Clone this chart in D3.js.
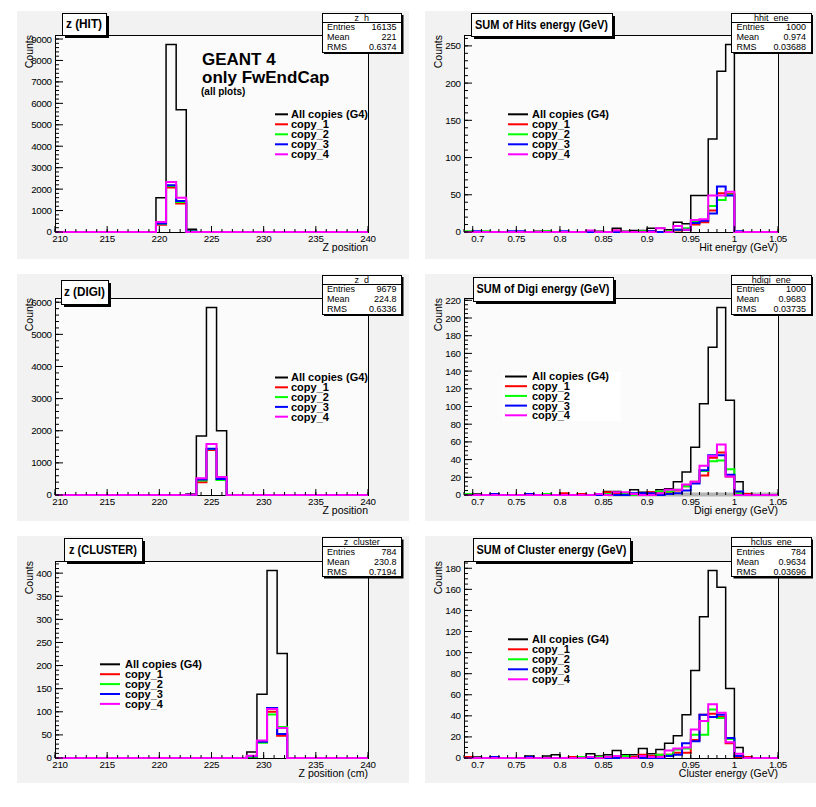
<!DOCTYPE html>
<html><head><meta charset="utf-8">
<script src="https://cdn.jsdelivr.net/npm/d3@7"></script>
<style>
body{margin:0;background:#fff}
svg{display:block}
text{font-family:"Liberation Sans",Arial,Helvetica,sans-serif}
</style></head>
<body><svg id="c" width="816" height="807"></svg>
<script>
// ---------------- DATA ----------------
// z histograms: 31 bins from 210 to 240
const zLo = 210, zHi = 240;
const zHitAll = [0,0,0,0,0,0,0,0,0,0, 1600,8750,5700,130,0,0,0,0,0,0, 0,0,0,0,0,0,0,0,0,0, 0];
const zHitC1  = [0,0,0,0,0,0,0,0,0,0, 340,2080,1330,15,0,0,0,0,0,0, 0,0,0,0,0,0,0,0,0,0, 0];
const zHitC2  = [0,0,0,0,0,0,0,0,0,0, 380,2150,1400,40,0,0,0,0,0,0, 0,0,0,0,0,0,0,0,0,0, 0];
const zHitC3  = [0,0,0,0,0,0,0,0,0,0, 400,2180,1450,20,0,0,0,0,0,0, 0,0,0,0,0,0,0,0,0,0, 0];
const zHitC4  = [0,0,0,0,0,0,0,0,0,0, 470,2330,1600,0,0,0,0,0,0,0, 0,0,0,0,0,0,0,0,0,0, 0];

const zDigiAll = [0,0,0,0,0,0,0,0,0,0, 0,0,0,30,1840,5840,2000,0,0,0, 0,0,0,0,0,0,0,0,0,0, 0];
const zDigiC1  = [0,0,0,0,0,0,0,0,0,0, 0,0,0,5,400,1400,480,0,0,0, 0,0,0,0,0,0,0,0,0,0, 0];
const zDigiC2  = [0,0,0,0,0,0,0,0,0,0, 0,0,0,10,450,1430,470,0,0,0, 0,0,0,0,0,0,0,0,0,0, 0];
const zDigiC3  = [0,0,0,0,0,0,0,0,0,0, 0,0,0,5,480,1440,500,0,0,0, 0,0,0,0,0,0,0,0,0,0, 0];
const zDigiC4  = [0,0,0,0,0,0,0,0,0,0, 0,0,0,10,520,1590,560,0,0,0, 0,0,0,0,0,0,0,0,0,0, 0];

const zClusAll = [0,0,0,0,0,0,0,0,0,0, 0,0,0,0,0,0,0,0,0,13, 138,406,226,0,0,0,0,0,0,0, 0];
const zClusC1  = [0,0,0,0,0,0,0,0,0,0, 0,0,0,0,0,0,0,0,0,2, 36,100,48,0,0,0,0,0,0,0, 0];
const zClusC2  = [0,0,0,0,0,0,0,0,0,0, 0,0,0,0,0,0,0,0,0,2, 33,94,67,0,0,0,0,0,0,0, 0];
const zClusC3  = [0,0,0,0,0,0,0,0,0,0, 0,0,0,0,0,0,0,0,0,4, 35,108,52,0,0,0,0,0,0,0, 0];
const zClusC4  = [0,0,0,0,0,0,0,0,0,0, 0,0,0,0,0,0,0,0,0,5, 38,106,65,0,0,0,0,0,0,0, 0];

// energy histograms: 36 bins from 0.69 to 1.05
const eLo = 0.69, eHi = 1.05;
const eHitAll = [0,0,0,0,0,0,0,0,1,1, 0,0,0,0,1,1,0,5,1,2, 2,5,5,3,13,11,49,49,125,216, 252,0,0,0,0,0];
const eHitC1  = [0,0,0,0,0,0,0,0,0,0, 0,0,0,0,1,0,0,2,0,0, 0,1,0,1,2,3,10,13,29,52, 51,0,0,0,0,0];
const eHitC2  = [1,0,1,0,0,0,0,0,0,1, 0,0,0,0,0,0,0,0,0,0, 1,0,0,1,3,5,14,16,35,43, 50,0,0,0,0,0];
const eHitC3  = [0,1,0,0,0,1,1,0,0,0, 0,1,0,0,0,0,0,0,0,0, 0,1,0,0,3,3,12,15,25,61, 49,1,0,0,0,0];
const eHitC4  = [0,0,0,0,0,0,0,0,0,0, 0,0,0,0,2,0,0,2,0,0, 0,0,5,0,8,3,16,17,49,49, 54,0,0,0,0,0];

const eDigiAll = [1,1,0,0,0,0,0,0,0,0, 0,0,0,0,0,1,4,4,2,6, 3,3,6,7,15,26,54,103,167,212, 107,15,0,0,0,0];
const eDigiC1  = [0,0,0,0,0,0,0,0,0,0, 0,2,0,1,0,0,3,2,0,0, 1,3,2,2,5,10,15,22,42,48, 21,2,1,0,0,0];
const eDigiC2  = [1,0,0,0,0,0,0,0,0,1, 0,0,0,0,0,0,1,0,2,0, 0,0,4,4,6,10,14,27,38,39, 29,2,0,0,0,0];
const eDigiC3  = [0,0,0,1,0,0,0,1,0,0, 0,0,0,0,0,0,0,0,0,2, 2,2,0,1,2,5,13,28,45,45, 23,4,0,0,0,0];
const eDigiC4  = [0,0,0,0,0,0,0,0,0,0, 0,0,0,0,0,1,0,3,3,1, 0,0,2,6,6,12,15,33,44,57, 21,0,0,0,0,0];

const eClusAll = [0,1,0,0,0,0,0,2,0,2, 3,0,0,0,4,2,3,7,3,3, 9,4,8,14,21,41,83,134,178,162, 66,10,0,0,0,0];
const eClusC1  = [1,0,0,0,0,0,0,0,0,0, 0,0,1,0,0,0,1,0,0,1, 3,2,3,3,5,5,17,41,42,39, 14,1,1,0,0,0];
const eClusC2  = [0,0,0,0,0,0,0,0,0,0, 0,0,0,1,0,1,0,0,2,0, 0,1,3,3,8,9,22,22,46,38, 18,2,0,0,0,0];
const eClusC3  = [0,0,0,1,0,0,0,1,0,0, 0,0,0,0,0,0,0,0,0,0, 0,0,0,2,3,14,16,41,39,41, 19,2,0,0,0,0];
const eClusC4  = [0,0,0,0,0,0,0,0,0,0, 0,0,0,0,1,0,1,2,0,0, 2,1,1,7,9,10,27,35,51,43, 15,4,0,0,0,0];

// axis ticks / labels
const zTicks = [210,215,220,225,230,235,240];
const zTickLabels = ["210","215","220","225","230","235","240"];
const eTicks = [0.70,0.75,0.80,0.85,0.90,0.95,1.00,1.05];
const eTickLabels = ["0.7","0.75","0.8","0.85","0.9","0.95","1","1.05"];
const yTicksHitZ  = [0,1000,2000,3000,4000,5000,6000,7000,8000,9000];
const yTicksHitE  = [0,50,100,150,200,250];
const yTicksDigiZ = [0,1000,2000,3000,4000,5000,6000];
const yTicksDigiE = [0,20,40,60,80,100,120,140,160,180,200,220];
const yTicksClusZ = [0,50,100,150,200,250,300,350,400];
const yTicksClusE = [0,20,40,60,80,100,120,140,160,180];

// texts
const titles  = ["z (HIT)","SUM of Hits energy (GeV)","z (DIGI)","SUM of Digi energy (GeV)","z (CLUSTER)","SUM of Cluster energy (GeV)"];
const xTitles = ["Z position","Hit energy (GeV)","Z position","Digi energy (GeV)","Z position (cm)","Cluster energy (GeV)"];
const statNames   = ["z_h","hhit_ene","z_d","hdigi_ene","z_cluster","hclus_ene"];
const statEntries = ["16135","1000","9679","1000","784","784"];
const statMean    = ["221","0.974","224.8","0.9683","230.8","0.9634"];
const statRMS     = ["0.6374","0.03688","0.6336","0.03735","0.7194","0.03696"];
const legendLabels = ["All copies (G4)","copy_1","copy_2","copy_3","copy_4"];
const seriesColors = ["#000000","#ff0000","#00ff00","#0000ff","#ff00ff"];

// ---------------- LAYOUT ----------------
const svg = d3.select("#c");
svg.append("rect").attr("width",816).attr("height",807).attr("fill","#fff");

const padX=[17,425], padW=[392,391];
const padY=[11,274,536], padH=[248,247,247];
const frX=[55,464], frW=[313,314];
const frY=[35,298,561], frH=197;
const stX=[322,731.5], stY=[13,275,537.5];

const titleBoxes = [
  {x:62,y:13,w:44,h:22,tw:36},
  {x:471,y:13,w:141,h:23,tw:133},
  {x:61,y:280,w:47,h:24,tw:41},
  {x:473,y:277,w:140,h:24,tw:133},
  {x:64,y:538,w:78,h:23,tw:68},
  {x:473,y:538,w:157,h:23,tw:150}
];
const legends = [
  {x1:275,x2:288,tx:291,y0:114.3,dy:10},
  {x1:508,x2:528,tx:532,y0:114.3,dy:10},
  {x1:275,x2:288,tx:291,y0:377.5,dy:9.8},
  {x1:505,x2:527,tx:532,y0:376.5,dy:9.7,box:{x:503,y:372,w:118,h:49}},
  {x1:100,x2:120,tx:125,y0:664.3,dy:9.9},
  {x1:508,x2:528,tx:532,y0:639.3,dy:10}
];

const panels = [
  {series:[zHitAll,zHitC1,zHitC2,zHitC3,zHitC4], lo:zLo, hi:zHi, ticks:zTicks, tickLabels:zTickLabels, minorStep:1, yTicks:yTicksHitZ, yMinorDiv:5},
  {series:[eHitAll,eHitC1,eHitC2,eHitC3,eHitC4], lo:eLo, hi:eHi, ticks:eTicks, tickLabels:eTickLabels, minorStep:0.01, yTicks:yTicksHitE, yMinorDiv:5},
  {series:[zDigiAll,zDigiC1,zDigiC2,zDigiC3,zDigiC4], lo:zLo, hi:zHi, ticks:zTicks, tickLabels:zTickLabels, minorStep:1, yTicks:yTicksDigiZ, yMinorDiv:5},
  {series:[eDigiAll,eDigiC1,eDigiC2,eDigiC3,eDigiC4], lo:eLo, hi:eHi, ticks:eTicks, tickLabels:eTickLabels, minorStep:0.01, yTicks:yTicksDigiE, yMinorDiv:4, grayBase:[0.855,1.05]},
  {series:[zClusAll,zClusC1,zClusC2,zClusC3,zClusC4], lo:zLo, hi:zHi, ticks:zTicks, tickLabels:zTickLabels, minorStep:1, yTicks:yTicksClusZ, yMinorDiv:5},
  {series:[eClusAll,eClusC1,eClusC2,eClusC3,eClusC4], lo:eLo, hi:eHi, ticks:eTicks, tickLabels:eTickLabels, minorStep:0.01, yTicks:yTicksClusE, yMinorDiv:4}
];

panels.forEach((p,k)=>{
  const col=k%2, row=Math.floor(k/2);
  const g = svg.append("g");
  g.append("rect").attr("x",padX[col]).attr("y",padY[row]).attr("width",padW[col]).attr("height",padH[row]).attr("fill","#f2f2f2");
  const fx=frX[col], fw=frW[col], fy=frY[row], fh=frH;
  const x = d3.scaleLinear().domain([p.lo,p.hi]).range([fx,fx+fw]);
  const ymax = d3.max(p.series[0])*1.05;
  const y = d3.scaleLinear().domain([0,ymax]).range([fy+fh,fy]);

  g.append("rect").attr("x",fx).attr("y",fy).attr("width",fw).attr("height",fh).attr("fill","#fbfbfb");

  const cid="clip"+k;
  svg.append("clipPath").attr("id",cid).append("rect").attr("x",fx).attr("y",fy).attr("width",fw).attr("height",fh+2);

  g.append("rect").attr("x",fx).attr("y",fy).attr("width",fw).attr("height",fh)
    .attr("fill","none").attr("stroke","#000").attr("stroke-width",1).attr("shape-rendering","crispEdges");

  const hg = g.append("g").attr("clip-path",`url(#${cid})`);
  if(p.grayBase){
    hg.append("line").attr("x1",x(p.grayBase[0])).attr("x2",x(p.grayBase[1]))
      .attr("y1",y(0)-0.5).attr("y2",y(0)-0.5).attr("stroke","#b4b4b4").attr("stroke-width",4);
  }
  const line = d3.line().x(d=>x(d[0])).y(d=>y(d[1]));
  p.series.forEach((vals,si)=>{
    const n=vals.length, bw=(p.hi-p.lo)/n;
    const pts=[[p.lo,0]];
    vals.forEach((v,i)=>{pts.push([p.lo+i*bw,v]);pts.push([p.lo+(i+1)*bw,v]);});
    pts.push([p.hi,0]);
    hg.append("path").attr("d",line(pts)).attr("fill","none")
      .attr("stroke",seriesColors[si]).attr("stroke-width",si===0?1.5:2)
      .attr("stroke-linejoin","miter");
  });

  // x ticks
  const xb = fy+fh;
  const nMinor = Math.round((p.hi-p.lo)/p.minorStep);
  const minors = d3.range(0,nMinor+1).map(i=>p.lo+i*p.minorStep);
  minors.forEach(v=>{
    g.append("line").attr("x1",x(v)).attr("x2",x(v)).attr("y1",xb).attr("y2",xb-3)
      .attr("stroke","#000").attr("stroke-width",1);
  });
  p.ticks.forEach((v,i)=>{
    g.append("line").attr("x1",x(v)).attr("x2",x(v)).attr("y1",xb).attr("y2",xb-6)
      .attr("stroke","#000").attr("stroke-width",1);
    const shift = i===0 ? 5 : 0;
    g.append("text").attr("x",x(v)+shift).attr("y",xb+9.5).attr("text-anchor","middle")
      .attr("font-size",9.8).attr("letter-spacing",-0.3).text(p.tickLabels[i]);
  });
  // y ticks
  const ystep = p.yTicks[1]-p.yTicks[0];
  const ms = ystep/p.yMinorDiv;
  d3.range(0, Math.floor(ymax/ms)+1).map(i=>i*ms).forEach(v=>{
    g.append("line").attr("x1",fx).attr("x2",fx+4).attr("y1",y(v)).attr("y2",y(v))
      .attr("stroke","#000").attr("stroke-width",1);
  });
  p.yTicks.forEach(v=>{
    g.append("line").attr("x1",fx).attr("x2",fx+8).attr("y1",y(v)).attr("y2",y(v))
      .attr("stroke","#000").attr("stroke-width",1);
    g.append("text").attr("x",fx-3.5).attr("y",y(v)-(v===0?1:0)).attr("dy","0.36em").attr("text-anchor","end")
      .attr("font-size",9.8).attr("letter-spacing",-0.4).text(v);
  });
  // axis titles
  g.append("text").attr("x",fx+fw).attr("y",xb+18.5).attr("text-anchor","end")
    .attr("font-size",10.5).text(xTitles[k]);
  g.append("text").attr("transform",`translate(${fx-26},${fy}) rotate(-90)`)
    .attr("dy","0.36em").attr("text-anchor","end").attr("font-size",10.5).text("Counts");

  // legend
  const L = legends[k];
  if(L.box){
    g.append("rect").attr("x",L.box.x).attr("y",L.box.y).attr("width",L.box.w).attr("height",L.box.h).attr("fill","#fff");
  }
  legendLabels.forEach((lab,i)=>{
    const yy = L.y0+i*L.dy;
    g.append("line").attr("x1",L.x1).attr("x2",L.x2).attr("y1",yy).attr("y2",yy)
      .attr("stroke",seriesColors[i]).attr("stroke-width",2);
    g.append("text").attr("x",L.tx).attr("y",yy).attr("dy","0.36em")
      .attr("font-size",11).attr("font-weight","bold").text(lab);
  });

  // title box
  const T = titleBoxes[k];
  g.append("rect").attr("x",T.x+3).attr("y",T.y+3).attr("width",T.w).attr("height",T.h).attr("fill","#000");
  g.append("rect").attr("x",T.x).attr("y",T.y).attr("width",T.w).attr("height",T.h)
    .attr("fill","#fff").attr("stroke","#000").attr("stroke-width",1).attr("shape-rendering","crispEdges");
  g.append("text").attr("x",T.x+T.w/2).attr("y",T.y+T.h/2).attr("dy","0.36em").attr("text-anchor","middle")
    .attr("font-size",12).attr("font-weight","bold")
    .attr("textLength",T.tw).attr("lengthAdjust","spacingAndGlyphs").text(titles[k]);

  // stats box
  const sx=stX[col], sy=stY[row], sw=79.5, sh=39;
  g.append("rect").attr("x",sx+2).attr("y",sy+2).attr("width",sw).attr("height",sh).attr("fill","#000");
  g.append("rect").attr("x",sx).attr("y",sy).attr("width",sw).attr("height",sh)
    .attr("fill","#fff").attr("stroke","#000").attr("stroke-width",1).attr("shape-rendering","crispEdges");
  g.append("line").attr("x1",sx).attr("x2",sx+sw).attr("y1",sy+9).attr("y2",sy+9)
    .attr("stroke","#000").attr("stroke-width",1).attr("shape-rendering","crispEdges");
  g.append("text").attr("x",sx+sw/2).attr("y",sy+4.7).attr("dy","0.36em").attr("text-anchor","middle")
    .attr("font-size",9).text(statNames[k]);
  const rows=[["Entries",statEntries[k]],["Mean",statMean[k]],["RMS",statRMS[k]]];
  rows.forEach((r,i)=>{
    const yy=sy+14+i*10;
    g.append("text").attr("x",sx+5).attr("y",yy).attr("dy","0.36em").attr("font-size",9).text(r[0]);
    g.append("text").attr("x",sx+sw-5).attr("y",yy).attr("dy","0.36em").attr("text-anchor","end").attr("font-size",9).text(r[1]);
  });

  if(k===0){
    g.append("text").attr("x",202).attr("y",65).attr("font-size",17).attr("font-weight","bold").text("GEANT 4");
    g.append("text").attr("x",202).attr("y",83).attr("font-size",17).attr("font-weight","bold").text("only FwEndCap");
    g.append("text").attr("x",201).attr("y",95).attr("font-size",10).attr("font-weight","bold").text("(all plots)");
  }
});
</script></body></html>
